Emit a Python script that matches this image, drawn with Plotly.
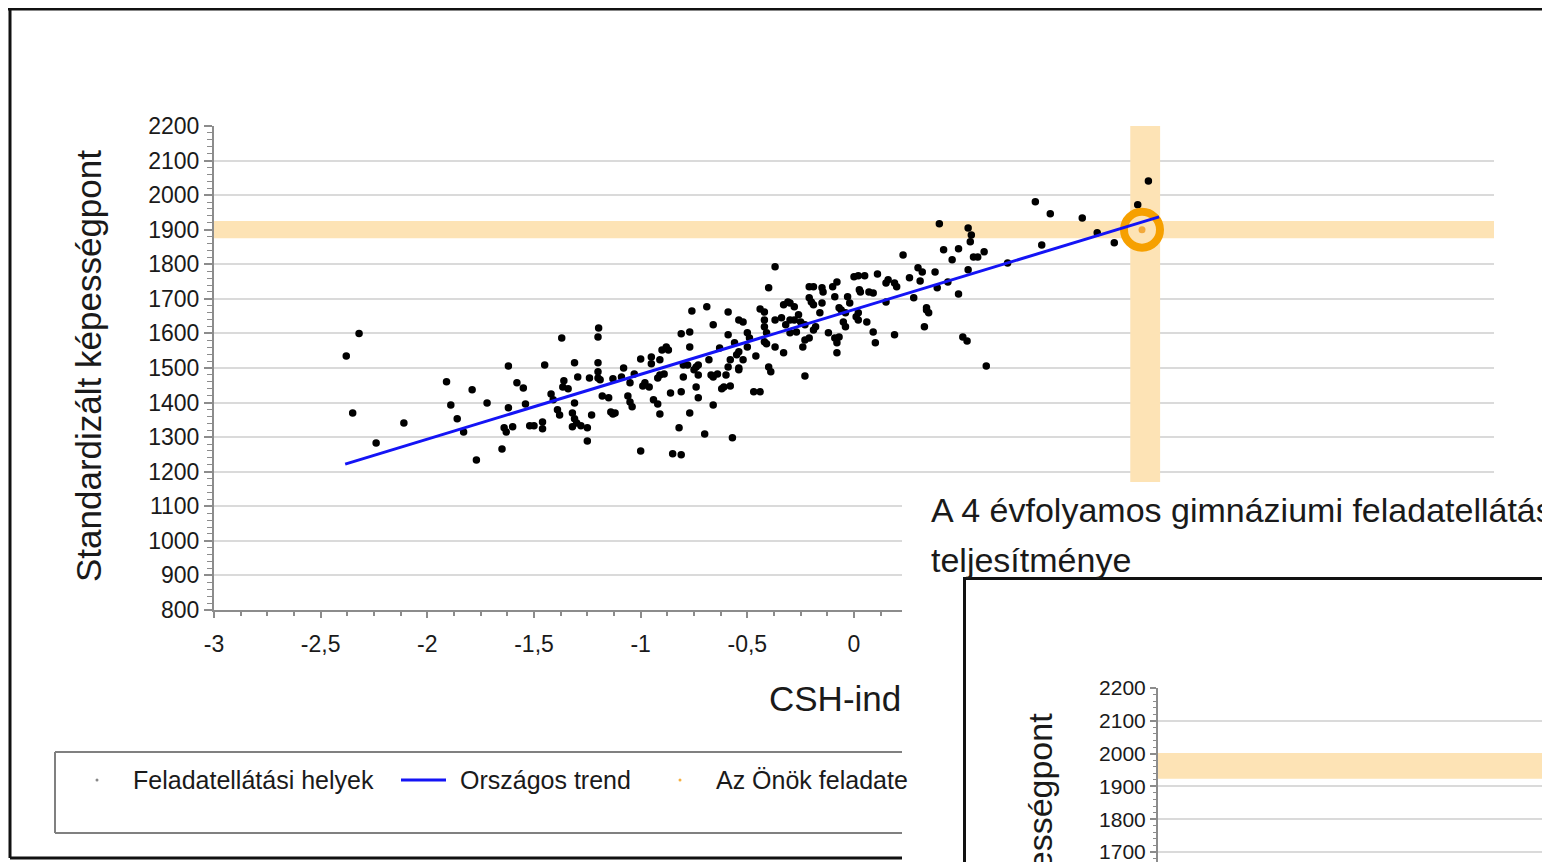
import plotly.graph_objects as go

# the page puts the figure 8px from the top-left corner; size it to fill the window exactly
OX, OY = 8, 8
W, H = 1550 - OX, 862 - OY

# ---------------- data ----------------
csh = [
    -2.38, -2.32, -2.35, -2.24, -2.11, -1.91, -1.89, -1.86, -1.83, -1.79, -1.77, -1.72,
    -1.65, -1.62, -1.62, -1.64, -1.63, -1.60, -1.58, -1.55, -1.54, -1.52,
    -1.50, -1.46, -1.46, -1.45, -1.42, -1.41, -1.39, -1.38, -1.37, -1.365,
    -1.36, -1.34, -1.31, -1.32, -1.31, -1.30, -1.32, -1.31, -1.295, -1.28,
    -1.25, -1.25, -1.24, -1.23,
    -1.20, -1.197, -1.20, -1.20, -1.20, -1.19, -1.18, -1.15, -1.14, -1.13,
    -1.12, -1.13, -1.09, -1.08, -1.06, -1.05, -1.04, -1.05, -1.03, -1.00,
    -1.00, -0.99, -0.98, -0.96, -0.95, -0.95, -0.94, -0.92, -0.91, -0.92,
    -0.91, -0.91, -0.90, -0.88, -0.87, -0.89, -0.86, -0.85, -0.81, -0.82,
    -0.81, -0.77, -0.81, -0.80, -0.80, -0.77, -0.77, -0.78, -0.75, -0.74,
    -0.73, -0.73, -0.76, -0.74, -0.73, -0.70, -0.69, -0.68, -0.67, -0.66,
    -0.64, -0.66, -0.66, -0.63, -0.62, -0.61, -0.60, -0.59, -0.58, -0.59,
    -0.59, -0.58, -0.57, -0.56, -0.55, -0.54, -0.54, -0.54, -0.54, -0.52,
    -0.52, -0.50, -0.49, -0.50, -0.47, -0.44, -0.46, -0.44, -0.42, -0.42,
    -0.42, -0.41, -0.41, -0.42, -0.40, -0.40, -0.39, -0.37, -0.37, -0.33,
    -0.37, -0.34, -0.33, -0.31, -0.30, -0.28, -0.32, -0.30, -0.28, -0.26,
    -0.25, -0.30, -0.27, -0.24, -0.23, -0.21, -0.23, -0.23, -0.19, -0.18,
    -0.21, -0.19, -0.15, -0.145, -0.21, -0.20, -0.19, -0.15, -0.16, -0.12,
    -0.09, -0.10, -0.08, -0.09, -0.08, -0.08, -0.07, -0.06, -0.04, -0.05,
    -0.07, -0.04, -0.03, -0.02, 0.00, 0.02, 0.05, 0.01, 0.02, 0.02,
    0.025, 0.03, 0.06, 0.07, 0.09, 0.09, 0.10, 0.11, 0.15, 0.16,
    0.19, 0.20, 0.15, 0.19, 0.23, 0.26, 0.28, 0.30, 0.32, 0.31,
    0.34, 0.35, 0.33, 0.38, 0.34, 0.39, 0.44, 0.40, 0.42, 0.46,
    0.49, 0.49, 0.535, 0.535, 0.55, 0.545, 0.56, 0.58, 0.61, 0.72,
    0.85, 0.88, 0.92, 1.07, 1.14, 1.22, 1.33, 1.38, 0.51, 0.53, 0.62,
]
score = [
    1535, 1600, 1370, 1283, 1341, 1460, 1393, 1353, 1315, 1437, 1234, 1399,
    1266, 1506, 1385, 1327, 1315, 1330, 1457, 1442, 1396, 1333,
    1333, 1344, 1324, 1509, 1425, 1408, 1379, 1364, 1587, 1445,
    1463, 1440, 1515, 1370, 1353, 1341, 1330, 1399, 1474, 1333,
    1327, 1289, 1471, 1364,
    1590, 1616, 1515, 1489, 1471, 1466, 1419, 1414, 1373, 1367,
    1370, 1469, 1474, 1500, 1419, 1402, 1388, 1457, 1483, 1260,
    1526, 1448, 1457, 1445, 1532, 1512, 1408, 1396, 1367, 1471,
    1480, 1524, 1552, 1561, 1552, 1483, 1428, 1252, 1249, 1327,
    1599, 1604, 1431, 1509, 1474, 1561, 1370, 1509, 1495, 1503,
    1509, 1480, 1665, 1445, 1414, 1309, 1677, 1524, 1480, 1474,
    1483, 1625, 1393, 1558, 1440, 1445, 1480, 1503, 1524, 1662,
    1596, 1448, 1298, 1573, 1538, 1547, 1500, 1495, 1639, 1633,
    1524, 1602, 1587, 1561, 1431, 1431, 1535, 1671, 1662, 1639,
    1619, 1602, 1570, 1576, 1732, 1503, 1489, 1793, 1561, 1544,
    1639, 1645, 1683, 1691, 1688, 1677, 1625, 1639, 1639, 1654,
    1633, 1602, 1604, 1561, 1581, 1587, 1477, 1625, 1610, 1619,
    1735, 1735, 1732, 1720, 1703, 1691, 1683, 1688, 1660, 1602,
    1587, 1735, 1749, 1706, 1573, 1544, 1674, 1668, 1660, 1633,
    1590, 1619, 1706, 1688, 1764, 1767, 1767, 1648, 1660, 1639,
    1726, 1720, 1633, 1720, 1717, 1604, 1573, 1772, 1746, 1755,
    1746, 1735, 1691, 1596, 1827, 1761, 1703, 1790, 1778, 1752,
    1668, 1660, 1619, 1778, 1674, 1732, 1749, 1917, 1842, 1813,
    1845, 1714, 1784, 1905, 1885, 1865, 1821, 1821, 1836, 1804,
    1981, 1856, 1946, 1934, 1891, 1862, 1972, 2041, 1590, 1578, 1506,
]
trend_x = [-2.385, 1.43]
trend_y = [1222, 1937]
own_x = [1.35]
own_y = [1900]
own_ci_x = [1.295, 1.435]
own_ci_y = [1875, 1925]
second_ci_y = [1923, 2002]

x_tickvals = [-3, -2.5, -2, -1.5, -1, -0.5, 0, 0.5, 1, 1.5, 2, 2.5, 3]
x_ticktext = ["-3", "-2,5", "-2", "-1,5", "-1", "-0,5", "0", "0,5", "1", "1,5", "2", "2,5", "3"]
y_tickvals = [800, 900, 1000, 1100, 1200, 1300, 1400, 1500, 1600, 1700, 1800, 1900, 2000, 2100, 2200]
y2_tickvals = [1700, 1800, 1900, 2000, 2100, 2200]

y_title = "Standardizált képességpont"
x_title_visible = "CSH-ind"
legend_labels = ["Feladatellátási helyek", "Országos trend", "Az Önök feladate"]
second_title = ["A 4 évfolyamos gimnáziumi feladatellátás", "teljesítménye"]

# ---------------- styling ----------------
FONT = "Liberation Sans, Arial, sans-serif"
TXT = "#1a1a1a"
BAND = "#FDE3B5"
GRID = "#DADADA"
AXIS = "#8C8C8C"
ORANGE = "#F6A000"


def px(x):
    """screen x pixel -> paper fraction"""
    return (x - OX) / W


def py(y):
    """screen y pixel -> paper fraction"""
    return 1 - (y - OY) / H


fig = go.Figure()

# main chart (x / y)
fig.add_trace(go.Scatter(x=csh, y=score, mode="markers", xaxis="x", yaxis="y",
                         marker=dict(color="black", size=7.5), hoverinfo="skip"))
fig.add_trace(go.Scatter(x=own_x, y=own_y, mode="markers", xaxis="x", yaxis="y",
                         marker=dict(symbol="circle-open", size=36, color=ORANGE,
                                     line=dict(width=8, color=ORANGE)), hoverinfo="skip"))
fig.add_trace(go.Scatter(x=own_x, y=own_y, mode="markers", xaxis="x", yaxis="y",
                         marker=dict(color="#F2A93B", size=7), hoverinfo="skip"))
fig.add_trace(go.Scatter(x=trend_x, y=trend_y, mode="lines", xaxis="x", yaxis="y",
                         line=dict(color="#1414F5", width=3), hoverinfo="skip"))

# cover (the page of the second chart lying over the first one)
fig.add_trace(go.Scatter(x=[0, 1, 1, 0, 0], y=[0, 0, 1, 1, 0], mode="none", fill="toself",
                         fillcolor="white", xaxis="x2", yaxis="y2", hoverinfo="skip"))
# frame of the second chart
fig.add_trace(go.Scatter(x=[], y=[], mode="markers", xaxis="x3", yaxis="y3", hoverinfo="skip"))
# second chart axes
fig.add_trace(go.Scatter(x=[], y=[], mode="markers", xaxis="x4", yaxis="y4", hoverinfo="skip"))

hidden = dict(visible=False, range=[0, 1], fixedrange=True)

fig.update_layout(
    width=W, height=H,
    margin=dict(l=0, r=0, t=0, b=0, autoexpand=False),
    paper_bgcolor="white", plot_bgcolor="white",
    showlegend=False,
    font=dict(family=FONT, color=TXT),
    xaxis=dict(domain=[px(214), px(1494)], range=[-3, 3], anchor="y",
               tickmode="array", tickvals=x_tickvals, ticktext=x_ticktext,
               ticks="outside", ticklen=6, tickwidth=1.5, tickcolor=AXIS,
               showline=True, linecolor=AXIS, linewidth=2,
               showgrid=False, zeroline=False,
               tickfont=dict(size=23, family=FONT, color=TXT),
               ticklabelstandoff=6,
               minor=dict(tickmode="linear", tick0=-3, dtick=0.125, ticks="outside",
                          ticklen=4, tickwidth=1.5, tickcolor=AXIS, showgrid=False)),
    yaxis=dict(domain=[py(610), py(126)], range=[800, 2200], anchor="x",
               tickmode="array", tickvals=y_tickvals,
               ticks="outside", ticklen=8, tickwidth=1.5, tickcolor=AXIS,
               showline=True, linecolor=AXIS, linewidth=2,
               showgrid=True, gridcolor=GRID, gridwidth=2, zeroline=False,
               tickfont=dict(size=23, family=FONT, color=TXT),
               minor=dict(tickmode="linear", tick0=800, dtick=20, ticks="outside",
                          ticklen=5, tickwidth=1.2, tickcolor=AXIS, showgrid=False)),
    xaxis2=dict(domain=[px(902), 1], anchor="y2", **hidden),
    yaxis2=dict(domain=[0, py(482)], anchor="x2", **hidden),
    xaxis3=dict(domain=[px(966), 1], anchor="y3", side="top", range=[0, 1],
                showline=True, linecolor="#111111", linewidth=3,
                showticklabels=False, ticks="", showgrid=False, zeroline=False, fixedrange=True),
    yaxis3=dict(domain=[0, py(580)], anchor="x3", range=[0, 1],
                showline=True, linecolor="#111111", linewidth=3,
                showticklabels=False, ticks="", showgrid=False, zeroline=False, fixedrange=True),
    xaxis4=dict(domain=[px(1158), 1], anchor="y4", **hidden),
    yaxis4=dict(domain=[0, py(688)], range=[1669.5, 2200], anchor="x4",
                tickmode="array", tickvals=y2_tickvals,
                ticks="outside", ticklen=6, tickwidth=1.5, tickcolor=AXIS,
                showline=True, linecolor=AXIS, linewidth=2,
                showgrid=True, gridcolor=GRID, gridwidth=2, zeroline=False,
                ticklabeloverflow="allow",
                tickfont=dict(size=21, family=FONT, color=TXT),
                minor=dict(tickmode="linear", tick0=1700, dtick=20, ticks="outside",
                           ticklen=3, tickwidth=1.2, tickcolor=AXIS, showgrid=False)),
)

shapes = []
# confidence bands of own site (main chart)
shapes.append(dict(type="rect", xref="x", yref="y", x0=-3, x1=3, y0=own_ci_y[0], y1=own_ci_y[1],
                   fillcolor=BAND, line=dict(width=0), layer="between"))
shapes.append(dict(type="rect", xref="x", yref="y", x0=own_ci_x[0], x1=own_ci_x[1], y0=800, y1=2200,
                   fillcolor=BAND, line=dict(width=0), layer="between"))
# band on second chart
shapes.append(dict(type="rect", xref="x4", yref="y4", x0=0, x1=1, y0=second_ci_y[0], y1=second_ci_y[1],
                   fillcolor=BAND, line=dict(width=0), layer="between"))

# page frame of the first chart
frame = dict(color="#111111", width=3)
shapes.append(dict(type="line", xref="paper", yref="paper", x0=px(8), x1=1, y0=py(9), y1=py(9), line=frame, layer="below"))
shapes.append(dict(type="line", xref="paper", yref="paper", x0=px(10), x1=px(10), y0=py(9), y1=py(858), line=frame, layer="below"))
shapes.append(dict(type="line", xref="paper", yref="paper", x0=px(10), x1=px(902), y0=py(858), y1=py(858), line=frame, layer="below"))

# legend box
lg = dict(color="#808080", width=2)
shapes.append(dict(type="line", xref="paper", yref="paper", x0=px(55), x1=px(55), y0=py(752), y1=py(833), line=lg, layer="below"))
shapes.append(dict(type="line", xref="paper", yref="paper", x0=px(55), x1=px(902), y0=py(752), y1=py(752), line=lg, layer="below"))
shapes.append(dict(type="line", xref="paper", yref="paper", x0=px(55), x1=px(902), y0=py(833), y1=py(833), line=lg, layer="below"))
# legend symbols
shapes.append(dict(type="circle", xref="paper", yref="paper", x0=px(95.5), x1=px(98.5), y0=py(778.5), y1=py(781.5),
                   fillcolor="#888888", line=dict(width=0), layer="below"))
shapes.append(dict(type="line", xref="paper", yref="paper", x0=px(401), x1=px(446), y0=py(780), y1=py(780),
                   line=dict(color="#1414F5", width=3), layer="below"))
shapes.append(dict(type="circle", xref="paper", yref="paper", x0=px(678.5), x1=px(681.5), y0=py(778.5), y1=py(781.5),
                   fillcolor="#F6B040", line=dict(width=0), layer="below"))

fig.update_layout(shapes=shapes)

ann = []
ann.append(dict(text=y_title, xref="paper", yref="paper", x=px(88), y=py(366), textangle=-90,
                showarrow=False, xanchor="center", yanchor="middle", font=dict(size=35, family=FONT, color=TXT)))
ann.append(dict(text=x_title_visible, xref="paper", yref="paper", x=px(767), y=py(698),
                showarrow=False, xanchor="left", yanchor="middle", font=dict(size=35, family=FONT, color=TXT)))
for label, xpos in zip(legend_labels, [131, 458, 714]):
    ann.append(dict(text=label, xref="paper", yref="paper", x=px(xpos), y=py(780),
                    showarrow=False, xanchor="left", yanchor="middle", font=dict(size=25, family=FONT, color=TXT)))
for line_text, ypos in zip(second_title, [510, 560]):
    ann.append(dict(text=line_text, xref="paper", yref="paper", x=px(929), y=py(ypos),
                    showarrow=False, xanchor="left", yanchor="middle", font=dict(size=34, family=FONT, color=TXT)))
ann.append(dict(text=y_title, xref="paper", yref="paper", x=px(1040), y=py(711), textangle=-90,
                showarrow=False, xanchor="center", yanchor="top", font=dict(size=34, family=FONT, color=TXT)))
fig.update_layout(annotations=ann)

fig.write_html("out.html")
